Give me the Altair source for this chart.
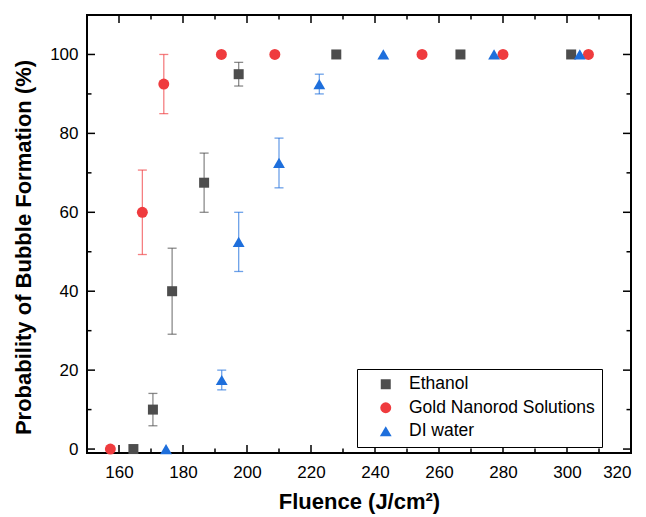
import altair as alt
import pandas as pd

# ---- data ----
series_names = ["Ethanol", "Gold Nanorod Solutions", "DI water"]
series_colors = ["#4d4d4d", "#ef3b3e", "#1e6fdc"]
series_shapes = ["square", "circle", "triangle-up"]

ethanol_x = [164.5, 170.6, 176.6, 186.6, 197.4, 227.9, 266.7, 301.3]
ethanol_y = [0, 10, 40, 67.5, 95, 100, 100, 100]
ethanol_err = [0, 4.1, 10.9, 7.5, 3.0, 0, 0, 0]

gold_x = [157.3, 167.3, 174.0, 192.0, 208.7, 254.7, 280.0, 306.7]
gold_y = [0, 60, 92.5, 100, 100, 100, 100, 100]
gold_err = [0, 10.7, 7.5, 0, 0, 0, 0, 0]

water_x = [174.7, 192.1, 197.4, 210.0, 222.6, 242.6, 277.2, 304.0]
water_y = [0, 17.5, 52.5, 72.5, 92.5, 100, 100, 100]
water_err = [0, 2.5, 7.5, 6.3, 2.5, 0, 0, 0]

x_major_ticks = [160, 180, 200, 220, 240, 260, 280, 300, 320]
x_minor_ticks = [170, 190, 210, 230, 250, 270, 290, 310]
y_major_ticks = [0, 20, 40, 60, 80, 100]
y_minor_ticks = [10, 30, 50, 70, 90]

rows = []
for name, xs, ys, es in [
    ("Ethanol", ethanol_x, ethanol_y, ethanol_err),
    ("Gold Nanorod Solutions", gold_x, gold_y, gold_err),
    ("DI water", water_x, water_y, water_err),
]:
    for xv, yv, ev in zip(xs, ys, es):
        rows.append({"series": name, "x": xv, "y": yv, "lo": yv - ev, "hi": yv + ev, "err": ev})
df = pd.DataFrame(rows)
df_err = df[df["err"] > 0]

W, H = 544, 438
FONT = "Liberation Sans, Arial, Helvetica, sans-serif"

xscale = alt.Scale(domain=[150, 320], nice=False, zero=False)
yscale = alt.Scale(domain=[-1, 110], nice=False, zero=False)
color_scale = alt.Scale(domain=series_names, range=series_colors)
shape_scale = alt.Scale(domain=series_names, range=series_shapes)

legend = alt.Legend(
    title=None, orient="none", legendX=270, legendY=354,
    strokeColor="black", fillColor="white", padding=6.5,
    labelFontSize=17.5, labelFont=FONT, labelColor="black", labelLimit=400,
    symbolSize=90, symbolOffset=13.5, labelOffset=14.5, rowPadding=4.5,
    symbolStrokeWidth=0, symbolOpacity=1,
)

x_axis = alt.Axis(
    title="Fluence (J/cm²)", values=x_major_ticks, format="d", grid=False,
    ticks=False, tickSize=0, domain=False, labelFontSize=17, labelFont=FONT,
    labelColor="black", labelPadding=11, titleFontSize=22, titleFont=FONT,
    titleFontWeight="bold", titleColor="black", titlePadding=11,
)
y_axis = alt.Axis(
    title="Probability of Bubble Formation (%)", values=y_major_ticks, format="d",
    grid=False, ticks=False, tickSize=0, domain=False, labelFontSize=17,
    labelFont=FONT, labelColor="black", labelPadding=9, titleFontSize=22,
    titleFont=FONT, titleFontWeight="bold", titleColor="black", titlePadding=14,
    titleY=232, titleAlign="center",
)

color_enc = alt.Color("series:N", scale=color_scale, legend=legend)
shape_enc = alt.Shape("series:N", scale=shape_scale, legend=legend)

err_rules = alt.Chart(df_err).mark_rule(strokeWidth=1.3, opacity=0.65).encode(
    x=alt.X("x:Q", scale=xscale, axis=x_axis),
    y=alt.Y("lo:Q", scale=yscale, axis=y_axis),
    y2="hi:Q",
    color=color_enc,
)
cap_hi = alt.Chart(df_err).mark_tick(orient="horizontal", size=9, thickness=1.3, opacity=0.65).encode(
    x=alt.X("x:Q", scale=xscale),
    y=alt.Y("hi:Q", scale=yscale),
    color=color_enc,
)
cap_lo = alt.Chart(df_err).mark_tick(orient="horizontal", size=9, thickness=1.3, opacity=0.65).encode(
    x=alt.X("x:Q", scale=xscale),
    y=alt.Y("lo:Q", scale=yscale),
    color=color_enc,
)

points = alt.Chart(df).mark_point(filled=True, opacity=1, strokeWidth=0).encode(
    x=alt.X("x:Q", scale=xscale),
    y=alt.Y("y:Q", scale=yscale),
    color=color_enc,
    shape=shape_enc,
    size=alt.Size("series:N", scale=alt.Scale(domain=series_names, range=[100, 140, 200]), legend=None),
)

# inward ticks on all four sides
xt_major = pd.DataFrame({"v": x_major_ticks})
xt_minor = pd.DataFrame({"v": x_minor_ticks})
yt_major = pd.DataFrame({"v": y_major_ticks})
yt_minor = pd.DataFrame({"v": y_minor_ticks})

def xticks(d, length):
    top = alt.Chart(d).mark_rule(color="black", strokeWidth=1.5).encode(
        x=alt.X("v:Q", scale=xscale), y=alt.value(0), y2=alt.value(length))
    bot = alt.Chart(d).mark_rule(color="black", strokeWidth=1.5).encode(
        x=alt.X("v:Q", scale=xscale), y=alt.value(H), y2=alt.value(H - length))
    return top + bot

def yticks(d, length):
    left = alt.Chart(d).mark_rule(color="black", strokeWidth=1.5).encode(
        y=alt.Y("v:Q", scale=yscale), x=alt.value(0), x2=alt.value(length))
    right = alt.Chart(d).mark_rule(color="black", strokeWidth=1.5).encode(
        y=alt.Y("v:Q", scale=yscale), x=alt.value(W), x2=alt.value(W - length))
    return left + right

chart = alt.layer(
    err_rules, cap_hi, cap_lo,
    xticks(xt_major, 8), xticks(xt_minor, 4.5),
    yticks(yt_major, 8), yticks(yt_minor, 4.5),
    points,
).properties(
    width=W, height=H,
    autosize=alt.AutoSizeParams(type="none"),
    padding={"left": 87, "top": 15, "right": 15, "bottom": 64},
    background="white",
).configure_view(
    stroke="black", strokeWidth=2,
)

chart.save("out.html", embed_options={"renderer": "svg", "actions": False})
